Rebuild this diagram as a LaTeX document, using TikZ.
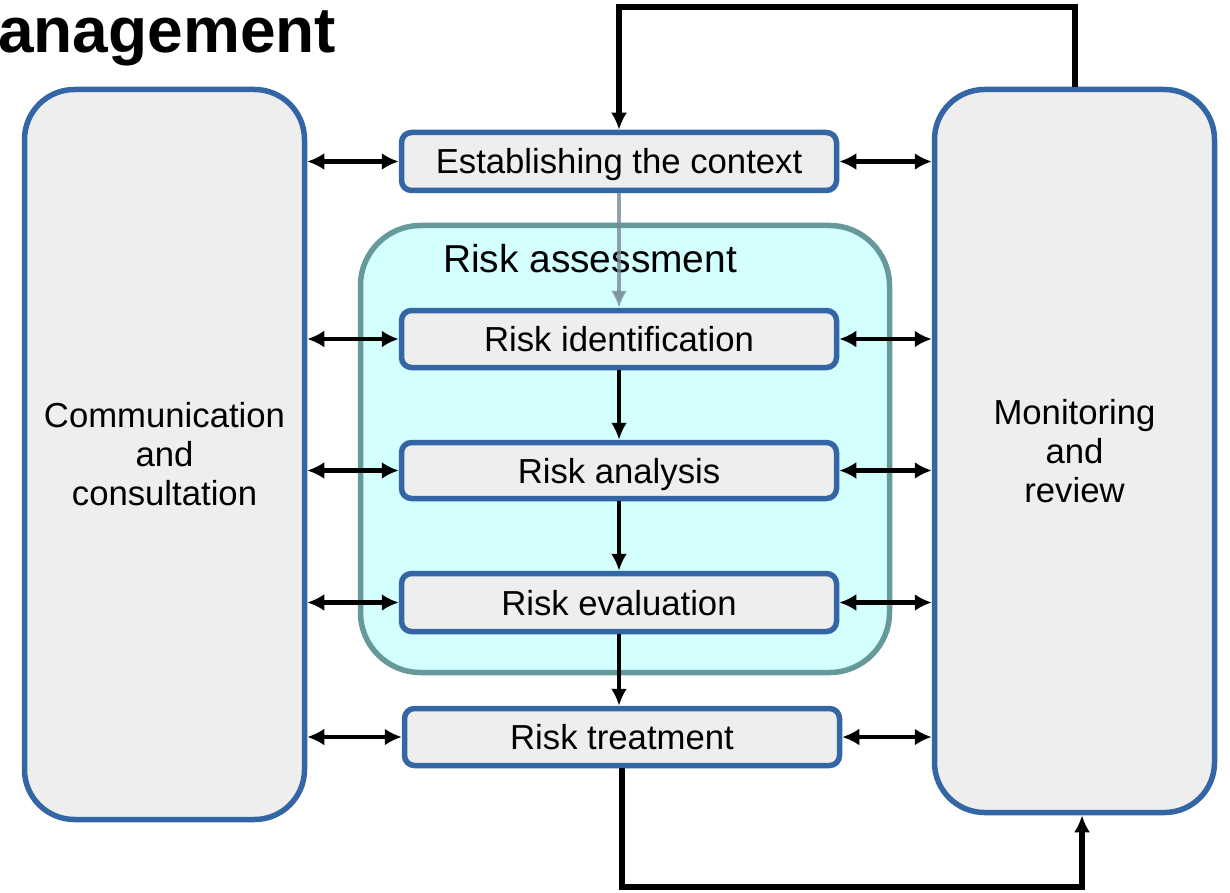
\documentclass[tikz,border=0pt]{standalone}
\usepackage{fontspec}
\setmainfont{Liberation Sans}
\usetikzlibrary{arrows.meta}
\definecolor{bblue}{HTML}{3465A4}
\definecolor{boxfill}{HTML}{EEEEEE}
\definecolor{cyanfill}{HTML}{D4FFFF}
\definecolor{tealb}{HTML}{669999}
\definecolor{greyarrow}{HTML}{7A8A99}
\tikzset{
  big/.style={draw=bblue, fill=boxfill, line width=5.5pt, rounded corners=50pt, minimum width=280pt, inner sep=0pt, align=center, font=\fontsize{34.7}{39}\selectfont},
  stepbox/.style={draw=bblue, fill=boxfill, line width=5.5pt, rounded corners=10pt, minimum width=435pt, minimum height=58pt, inner sep=0pt, text height=25pt, text depth=0pt, font=\fontsize{34.7}{39}\selectfont},
  container/.style={draw=tealb, fill=cyanfill, line width=5.5pt, rounded corners=60pt, minimum width=529pt, minimum height=447pt, inner sep=0pt},
  dbl/.style={{Latex[length=17pt,width=17pt]}-{Latex[length=17pt,width=17pt]}, line width=4.5pt, black},
  arr/.style={-{Latex[length=17pt,width=16pt]}, line width=4.5pt, black},
  loopline/.style={-{Latex[length=17pt,width=16pt]}, line width=5.5pt, black},
}
\begin{document}
\begin{tikzpicture}[x=1pt,y=-1pt]
\useasboundingbox (0,0) rectangle (1230,893);
\node[anchor=base west, font=\bfseries\fontsize{64}{64}\selectfont, inner sep=0pt] (title) at (-2,53) {anagement};
\node[big, minimum height=730pt] (comm) at (164.5,454.5) {Communication\\and\\consultation};
\node[big, minimum height=723pt] (mon) at (1074.5,451) {Monitoring\\and\\review};
\node[container] (assess) at (625,449) {};
\node[font=\fontsize{38.9}{42}\selectfont, inner sep=0pt] (assesslabel) at (590,259) {Risk assessment};
\node[stepbox, minimum height=58pt] (est) at (619,161.5) {Establishing the context};
\node[stepbox, minimum height=57pt] (id) at (619,339) {Risk identification};
\node[stepbox, minimum height=56pt] (an) at (619,470.5) {Risk analysis};
\node[stepbox, minimum height=58pt] (ev) at (619,602.5) {Risk evaluation};
\node[stepbox, minimum height=57pt] (tr) at (622,737) {Risk treatment};
\foreach \n in {est,id,an,ev,tr}{
  \draw[dbl] (\n.west -| comm.east) -- (\n.west);
  \draw[dbl] (\n.east) -- (\n.east -| mon.west);
}
\draw[arr, draw=greyarrow, fill=greyarrow, opacity=0.8] (est.south) -- (id.north);
\draw[arr] (id.south) -- (an.north);
\draw[arr] (an.south) -- (ev.north);
\draw[arr] (ev.south) -- (ev.south |- tr.north);
\coordinate (t1) at (1075,7);
\draw[loopline] (mon.north -| t1) -- (t1) -| (est.north);
\coordinate (b1) at (1082,887);
\draw[loopline] (tr.south) |- (b1) -- (b1 |- mon.south);
\end{tikzpicture}
\end{document}
